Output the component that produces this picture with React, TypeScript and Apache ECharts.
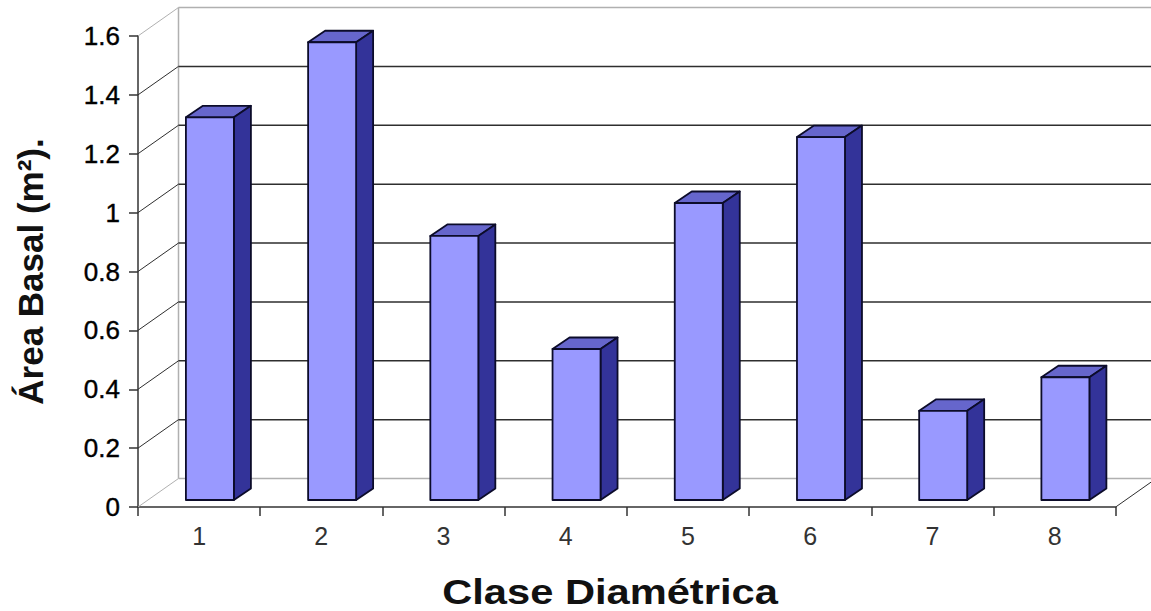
import React, { useEffect, useRef } from "react";
import * as echarts from "echarts";

const categories = ["1", "2", "3", "4", "5", "6", "7", "8"];
const areaBasal = [1.3, 1.555, 0.897, 0.513, 1.009, 1.233, 0.303, 0.417];
const gridValues = [0, 0.2, 0.4, 0.6, 0.8, 1, 1.2, 1.4, 1.6];
const xAxisTitle = "Clase Diamétrica";
const yAxisTitle = "Área Basal (m²).";

const WALL_DX = 40.5;
const WALL_DY = 28.5;
const BAR_OFFSET_X = 10.8;
const BAR_OFFSET_Y = 7;
const BAR_WIDTH = 48;
const SIDE_DX = 17;
const SIDE_DY = 11.5;
const EDGE = "#0c0c2a";
const GRID = "#2e2e2e";
const WALL = "#b0b0b0";

export default function App() {
  const ref = useRef<HTMLDivElement>(null);
  useEffect(() => {
    document.body.style.margin = "0";
    document.body.style.background = "#fff";
    const chart = echarts.init(ref.current!, undefined, { renderer: "svg" });
    chart.setOption({
      animation: false,
      backgroundColor: "#ffffff",
      grid: { left: 138, right: 35.3, top: 36, bottom: 104 },
      graphic: [
        {
          type: "text",
          x: 610,
          y: 592,
          scaleX: 1.19,
          style: {
            text: xAxisTitle,
            fontFamily: "Liberation Sans",
            fontSize: 35,
            fontWeight: "bold",
            fill: "#111",
            textAlign: "center",
            textVerticalAlign: "middle",
          },
        },
      ],
      xAxis: {
        type: "category",
        data: categories,
        boundaryGap: true,
        axisLine: { lineStyle: { color: "#333", width: 1.5 } },
        axisTick: { show: true, alignWithLabel: false, length: 9, lineStyle: { color: "#333", width: 1.5 } },
        axisLabel: {
          fontFamily: "Liberation Sans",
          fontSize: 25,
          color: "#333",
          margin: 16,
        },
      },
      yAxis: {
        type: "value",
        min: 0,
        max: 1.6,
        interval: 0.2,
        name: yAxisTitle,
        nameLocation: "middle",
        nameGap: 90,
        nameTextStyle: {
          fontFamily: "Liberation Sans",
          fontSize: 35,
          fontWeight: "bold",
          color: "#111",
        },
        axisLine: { show: true, lineStyle: { color: "#333", width: 1.5 } },
        axisTick: { show: true, length: 9, lineStyle: { color: "#333", width: 1.5 } },
        axisLabel: {
          fontFamily: "Liberation Sans",
          fontSize: 26,
          color: "#000",
          margin: 18,
          textBorderColor: "#000",
          textBorderWidth: 0.4,
        },
        splitLine: { show: false },
      },
      series: [
        {
          type: "custom",
          silent: true,
          clip: false,
          z: 1,
          data: gridValues.map((v) => [0, v]),
          encode: { x: 0, y: 1 },
          renderItem: (params: any, api: any) => {
            const v = api.value(1);
            const y = api.coord([0, v])[1];
            const cs = params.coordSys;
            const x0 = cs.x;
            const x1 = cs.x + cs.width;
            const edge = v === 0 || v === 1.6;
            const color = edge ? WALL : GRID;
            const children: any[] = [
              {
                type: "line",
                shape: { x1: x0 + WALL_DX, y1: y - WALL_DY, x2: x1 + WALL_DX, y2: y - WALL_DY },
                style: { stroke: color, lineWidth: 1.5 },
              },
              {
                type: "line",
                shape: { x1: x0, y1: y, x2: x0 + WALL_DX, y2: y - WALL_DY },
                style: { stroke: color, lineWidth: 1 },
              },
            ];
            if (v === 0) {
              children.push({
                type: "line",
                shape: {
                  x1: x0 + WALL_DX,
                  y1: y - WALL_DY,
                  x2: x0 + WALL_DX,
                  y2: cs.y - WALL_DY,
                },
                style: { stroke: WALL, lineWidth: 1.5 },
              });
              children.push({
                type: "line",
                shape: { x1: x1, y1: y, x2: x1 + WALL_DX, y2: y - WALL_DY },
                style: { stroke: GRID, lineWidth: 1 },
              });
            }
            return { type: "group", children };
          },
        },
        {
          type: "custom",
          silent: true,
          clip: false,
          z: 3,
          data: areaBasal.map((v, i) => [i, v]),
          encode: { x: 0, y: 1 },
          renderItem: (_params: any, api: any) => {
            const i = api.value(0);
            const top = api.coord([i, api.value(1)]);
            const base = api.coord([i, 0]);
            const x0 = top[0] + BAR_OFFSET_X - BAR_WIDTH / 2;
            const x1 = x0 + BAR_WIDTH;
            const yt = top[1] - BAR_OFFSET_Y;
            const yb = base[1] - BAR_OFFSET_Y;
            const stroke = { stroke: EDGE, lineWidth: 1.8, lineJoin: "round" };
            return {
              type: "group",
              children: [
                {
                  type: "polygon",
                  shape: {
                    points: [
                      [x0, yt],
                      [x0 + SIDE_DX, yt - SIDE_DY],
                      [x1 + SIDE_DX, yt - SIDE_DY],
                      [x1, yt],
                    ],
                  },
                  style: { fill: "#6666cc", ...stroke },
                },
                {
                  type: "polygon",
                  shape: {
                    points: [
                      [x1, yt],
                      [x1 + SIDE_DX, yt - SIDE_DY],
                      [x1 + SIDE_DX, yb - SIDE_DY],
                      [x1, yb],
                    ],
                  },
                  style: { fill: "#333399", ...stroke },
                },
                {
                  type: "rect",
                  shape: { x: x0, y: yt, width: BAR_WIDTH, height: yb - yt },
                  style: { fill: "#9999ff", ...stroke },
                },
              ],
            };
          },
        },
      ],
    });
    return () => chart.dispose();
  }, []);
  return <div ref={ref} style={{ width: 1151, height: 611 }} />;
}
